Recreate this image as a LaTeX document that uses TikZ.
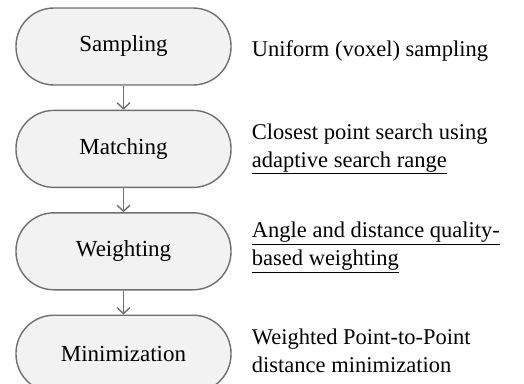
\documentclass[tikz,border=0pt]{standalone}
\usepackage{fontspec}
\setmainfont{Liberation Serif}
\usetikzlibrary{positioning}
\usetikzlibrary{arrows.meta, positioning}
\definecolor{boxline}{HTML}{6F6F6F}
\definecolor{boxfill}{HTML}{F2F2F2}
\tikzstyle{stepbox} = [draw=boxline, line width=1.4pt, fill=boxfill, rounded corners=38pt, minimum width=215pt, minimum height=77pt, font=\fontsize{23}{28}\selectfont]
\tikzstyle{note} = [anchor=west, align=left, inner sep=0pt, font=\fontsize{22.5}{28}\selectfont]
\tikzstyle{arrow} = [draw=boxline, line width=1.4pt, -{Straight Barb[length=6pt, width=13pt]}]

\begin{document}
\begin{tikzpicture}[x=1pt, y=1pt]
    \useasboundingbox (0,0) rectangle (524,-383);

    % Steps of the pipeline
    \node[stepbox] (samp) at (123.5,-46.5) {Sampling};
    \node[stepbox, below=24pt of samp] (match) {Matching};
    \node[stepbox, below=24pt of match] (weight) {Weighting};
    \node[stepbox, below=24pt of weight] (mini) {Minimization};
    \draw[arrow] (samp) -- (match);
    \draw[arrow] (match) -- (weight);
    \draw[arrow] (weight) -- (mini);

    % Descriptions
    \node[note, right=20pt of samp, yshift=-5pt] (sampd) {Uniform (voxel) sampling};
    \node[note, right=20pt of match] (matchd) {Closest point search using\\\underline{adaptive search range}};
    \node[note, right=20pt of weight, yshift=4pt] (weightd) {\underline{Angle and distance quality-}\\\underline{based weighting}};
    \node[note, right=20pt of mini, yshift=3pt] (minid) {Weighted Point-to-Point\\distance minimization};
\end{tikzpicture}
\end{document}
